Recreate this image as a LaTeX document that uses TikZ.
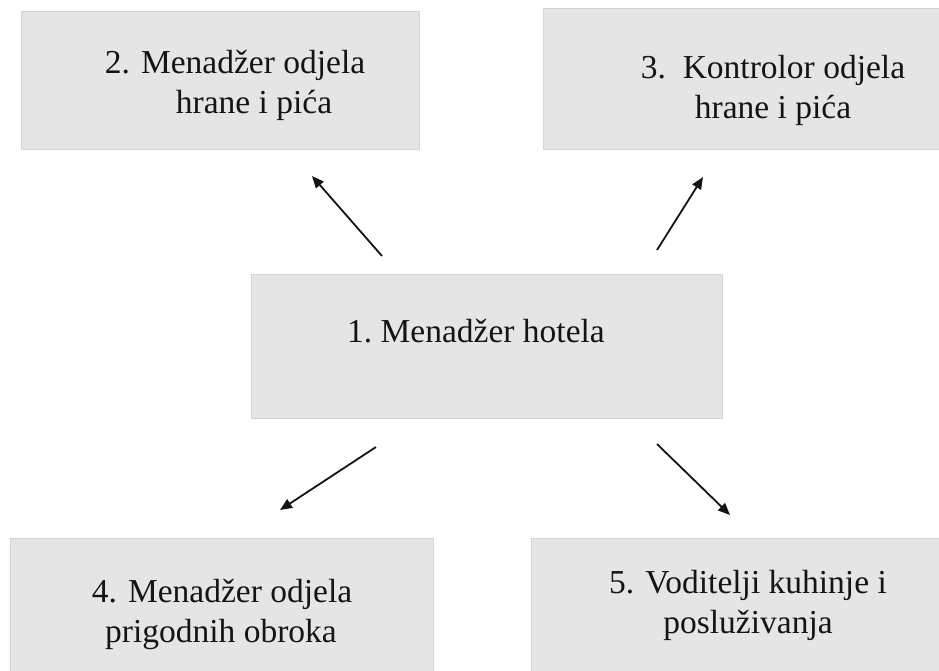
\documentclass[tikz,border=0pt]{standalone}
\usepackage{fontspec}
\setmainfont{Liberation Serif}
\usetikzlibrary{arrows.meta}
\definecolor{boxfill}{HTML}{E5E5E5}
\definecolor{boxline}{HTML}{D4D4D4}
\definecolor{txt}{HTML}{141414}
\tikzset{
  box/.style={draw=boxline, fill=boxfill, line width=1pt},
  lbl/.style={anchor=base, inner sep=0pt, text=txt, font=\fontsize{33.5}{40}\selectfont},
  conn/.style={line width=1.8pt, draw=txt, -{Triangle[length=12pt, width=10pt]}}
}
\begin{document}
\begin{tikzpicture}[x=1pt, y=-1pt]
\useasboundingbox (0,0) rectangle (939,670);
\clip (0,0) rectangle (939,670);
% boxes
\draw[box] (251,274) rectangle (722,418);
\draw[box] (21,11) rectangle (419,149);
\draw[box] (543,8) rectangle (1010,149);
\draw[box] (10,538) rectangle (433,720);
\draw[box] (531,538) rectangle (970,720);
% texts
\node[lbl] (t1) at (476,342) {1.\ Menadžer hotela};
\node[lbl] (t2a) at (235,73) {2. Menadžer odjela};
\node[lbl] (t2b) at (254,113) {hrane i pića};
\node[lbl] (t3a) at (773,78) {3.\ \ Kontrolor odjela};
\node[lbl] (t3b) at (773,118) {hrane i pića};
\node[lbl] (t4a) at (222,602) {4. Menadžer odjela};
\node[lbl] (t4b) at (221,642) {prigodnih obroka};
\node[lbl] (t5a) at (748,593) {5. Voditelji kuhinje i};
\node[lbl] (t5b) at (748,633) {posluživanja};
% arrows
\coordinate (a1s) at (382,256); \coordinate (a1e) at (312,176);
\coordinate (a2s) at (657,250); \coordinate (a2e) at (703,177);
\coordinate (a3s) at (376,447); \coordinate (a3e) at (280,510);
\coordinate (a4s) at (657,444); \coordinate (a4e) at (730,515);
\draw[conn] (a1s) -- (a1e);
\draw[conn] (a2s) -- (a2e);
\draw[conn] (a3s) -- (a3e);
\draw[conn] (a4s) -- (a4e);
\end{tikzpicture}
\end{document}
